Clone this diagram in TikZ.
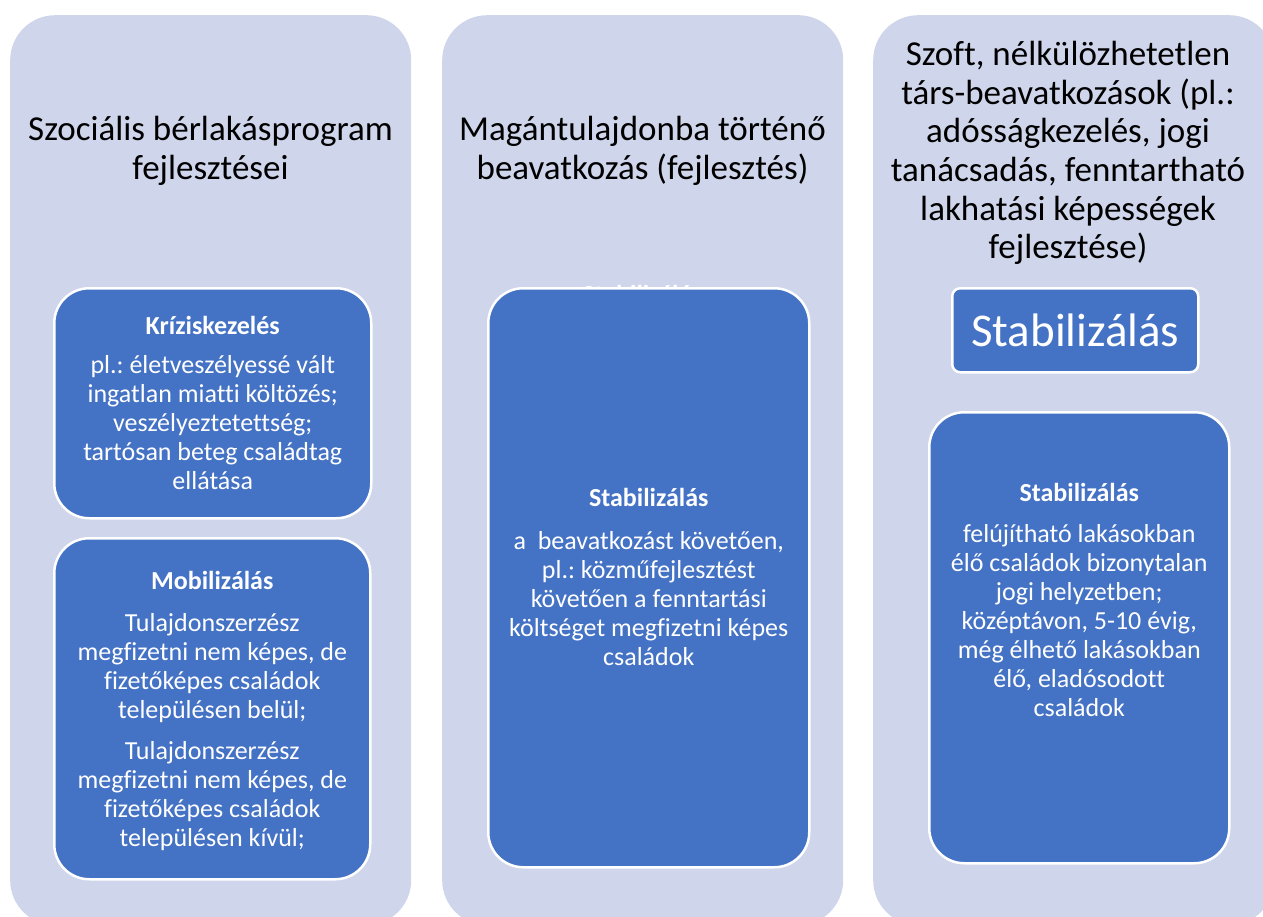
\documentclass[tikz,border=0pt]{standalone}
\usepackage{fontspec}
\setmainfont{Carlito}[Ligatures=NoCommon]
\frenchspacing
\definecolor{lav}{HTML}{CFD5EA}
\definecolor{bbl}{HTML}{4472C4}
\begin{document}
\begin{tikzpicture}[x=1pt,y=-1pt,
  panel/.style={fill=lav, draw=none, rounded corners=45pt, minimum width=401pt, minimum height=910pt, anchor=north west, inner sep=0pt},
  bbox/.style={fill=bbl, draw=white, line width=2.5pt, rounded corners=#1, anchor=north west, inner sep=0pt},
  btxt/.style={text=white, align=center, inner sep=0pt, font=\fontsize{26pt}{29pt}\selectfont},
  ttl/.style={text=black, align=center, inner sep=0pt, font=\fontsize{35pt}{38.6pt}\selectfont}
]
\useasboundingbox (0,0) rectangle (1263,917);
\clip (0,0) rectangle (1263,917);
% panels
\node[panel] (p1) at (10,15) {};
\node[panel] (p2) at (442,15) {};
\node[panel] (p3) at (873,15) {};
% titles
\node[ttl] (t1) at (210.5,151) {Szociális bérlakásprogram\\fejlesztései};
\node[ttl] (t2) at (642.5,151) {Magántulajdonba történő\\beavatkozás (fejlesztés)};
\node[ttl] (t3) at (1068,153) {Szoft, nélkülözhetetlen\\társ-beavatkozások (pl.:\\adósságkezelés, jogi\\tanácsadás, fenntartható\\lakhatási képességek\\fejlesztése)};
% hidden label behind middle box
\node[btxt, anchor=base, font=\fontsize{26pt}{29pt}\selectfont\bfseries] (hid) at (642,303) {Stabilizálás};
% blue boxes
\node[bbox=35pt, minimum width=317pt, minimum height=230pt] (kriz) at (53,287) {};
\node[bbox=35pt, minimum width=316pt, minimum height=341pt] (mob) at (53,537) {};
\node[bbox=35pt, minimum width=321pt, minimum height=579pt] (mid) at (487,287) {};
\node[bbox=8pt, minimum width=246pt, minimum height=84pt] (stab) at (951,287) {};
\node[bbox=35pt, minimum width=300pt, minimum height=451pt] (rbig) at (928,411) {};
% box texts
\node[btxt] (krizt) at (kriz.center |- 0,402.5) {\textbf{Kríziskezelés}\\[10pt]pl.: életveszélyessé vált\\ingatlan miatti költözés;\\veszélyeztetettség;\\tartósan beteg családtag\\ellátása};
\node[btxt] (mobt) at (mob.center |- 0,710.5) {\textbf{Mobilizálás}\\[13pt]Tulajdonszerzész\\megfizetni nem képes, de\\fizetőképes családok\\településen belül;\\[12pt]Tulajdonszerzész\\megfizetni nem képes, de\\fizetőképes családok\\településen kívül;};
\node[btxt] (midt) at (mid.center |- 0,576.5) {\textbf{Stabilizálás}\\[14pt]a\ \ beavatkozást követően,\\pl.: közműfejlesztést\\követően a fenntartási\\költséget megfizetni képes\\családok};
\node[text=white, inner sep=0pt, font=\fontsize{47pt}{50pt}\selectfont] (stabt) at (stab.center) {Stabilizálás};
\node[btxt] (rbigt) at (rbig.center |- 0,599.5) {\textbf{Stabilizálás}\\[12pt]felújítható lakásokban\\élő családok bizonytalan\\jogi helyzetben;\\középtávon, 5-10 évig,\\még élhető lakásokban\\élő, eladósodott\\családok};
\end{tikzpicture}
\end{document}
